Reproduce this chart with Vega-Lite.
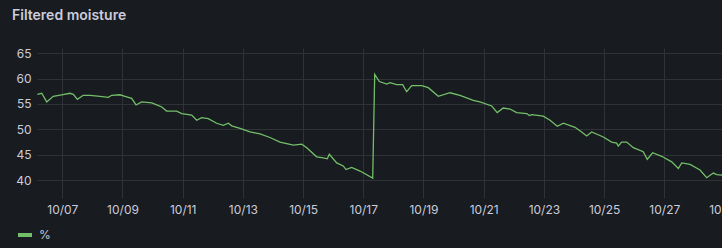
{
  "$schema": "https://vega.github.io/schema/vega-lite/v6.json",
  "width": 685,
  "height": 150,
  "autosize": {"type": "none"},
  "padding": {"left": 37, "top": 48, "right": 0, "bottom": 50},
  "background": "#181b1f",
  "title": {
    "text": "Filtered moisture",
    "anchor": "start",
    "frame": "group",
    "dx": -25,
    "offset": 24,
    "font": "Inter",
    "fontSize": 14,
    "fontWeight": 600,
    "color": "#ccccdc"
  },
  "data": {
    "values": [
      {"time": "2023-10-06T04:06", "value": 56.9},
      {"time": "2023-10-06T07:36", "value": 57.1},
      {"time": "2023-10-06T11:36", "value": 55.4},
      {"time": "2023-10-06T16:48", "value": 56.5},
      {"time": "2023-10-06T23:30", "value": 56.8},
      {"time": "2023-10-07T06:06", "value": 57.1},
      {"time": "2023-10-07T08:48", "value": 56.9},
      {"time": "2023-10-07T12:00", "value": 55.9},
      {"time": "2023-10-07T16:42", "value": 56.7},
      {"time": "2023-10-07T22:06", "value": 56.7},
      {"time": "2023-10-08T06:06", "value": 56.5},
      {"time": "2023-10-08T12:42", "value": 56.3},
      {"time": "2023-10-08T15:24", "value": 56.7},
      {"time": "2023-10-08T22:00", "value": 56.8},
      {"time": "2023-10-09T02:00", "value": 56.5},
      {"time": "2023-10-09T07:18", "value": 56.1},
      {"time": "2023-10-09T10:48", "value": 54.8},
      {"time": "2023-10-09T15:18", "value": 55.4},
      {"time": "2023-10-09T23:18", "value": 55.2},
      {"time": "2023-10-10T03:18", "value": 54.8},
      {"time": "2023-10-10T07:18", "value": 54.4},
      {"time": "2023-10-10T11:12", "value": 53.6},
      {"time": "2023-10-10T19:12", "value": 53.6},
      {"time": "2023-10-10T23:12", "value": 53.1},
      {"time": "2023-10-11T07:12", "value": 52.8},
      {"time": "2023-10-11T11:12", "value": 51.8},
      {"time": "2023-10-11T15:06", "value": 52.3},
      {"time": "2023-10-11T20:24", "value": 52.1},
      {"time": "2023-10-12T03:06", "value": 51.2},
      {"time": "2023-10-12T08:24", "value": 50.8},
      {"time": "2023-10-12T12:24", "value": 51.2},
      {"time": "2023-10-12T15:06", "value": 50.7},
      {"time": "2023-10-12T21:42", "value": 50.2},
      {"time": "2023-10-13T05:42", "value": 49.5},
      {"time": "2023-10-13T13:36", "value": 49.1},
      {"time": "2023-10-13T21:36", "value": 48.4},
      {"time": "2023-10-14T05:36", "value": 47.5},
      {"time": "2023-10-14T16:12", "value": 46.9},
      {"time": "2023-10-14T22:54", "value": 47.1},
      {"time": "2023-10-15T02:54", "value": 46.4},
      {"time": "2023-10-15T10:48", "value": 44.6},
      {"time": "2023-10-15T16:06", "value": 44.4},
      {"time": "2023-10-15T19:18", "value": 44.2},
      {"time": "2023-10-15T20:54", "value": 45.1},
      {"time": "2023-10-16T02:48", "value": 43.4},
      {"time": "2023-10-16T08:00", "value": 42.8},
      {"time": "2023-10-16T10:12", "value": 42.1},
      {"time": "2023-10-16T14:42", "value": 42.5},
      {"time": "2023-10-16T21:24", "value": 41.8},
      {"time": "2023-10-17T07:30", "value": 40.4},
      {"time": "2023-10-17T09:06", "value": 60.8},
      {"time": "2023-10-17T12:48", "value": 59.4},
      {"time": "2023-10-17T18:42", "value": 58.9},
      {"time": "2023-10-17T21:18", "value": 59.2},
      {"time": "2023-10-18T02:36", "value": 58.8},
      {"time": "2023-10-18T07:24", "value": 58.8},
      {"time": "2023-10-18T10:36", "value": 57.4},
      {"time": "2023-10-18T14:36", "value": 58.6},
      {"time": "2023-10-18T22:36", "value": 58.6},
      {"time": "2023-10-19T03:48", "value": 58.2},
      {"time": "2023-10-19T11:48", "value": 56.5},
      {"time": "2023-10-19T21:06", "value": 57.2},
      {"time": "2023-10-20T05:06", "value": 56.7},
      {"time": "2023-10-20T15:42", "value": 55.7},
      {"time": "2023-10-20T21:00", "value": 55.4},
      {"time": "2023-10-21T06:24", "value": 54.6},
      {"time": "2023-10-21T10:48", "value": 53.3},
      {"time": "2023-10-21T15:36", "value": 54.2},
      {"time": "2023-10-21T21:00", "value": 54.0},
      {"time": "2023-10-22T02:18", "value": 53.3},
      {"time": "2023-10-22T10:18", "value": 53.1},
      {"time": "2023-10-22T12:24", "value": 52.7},
      {"time": "2023-10-22T14:18", "value": 52.9},
      {"time": "2023-10-22T23:30", "value": 52.6},
      {"time": "2023-10-23T04:54", "value": 51.8},
      {"time": "2023-10-23T10:42", "value": 50.6},
      {"time": "2023-10-23T15:30", "value": 51.2},
      {"time": "2023-10-24T00:48", "value": 50.4},
      {"time": "2023-10-24T06:06", "value": 49.5},
      {"time": "2023-10-24T10:06", "value": 48.7},
      {"time": "2023-10-24T14:06", "value": 49.5},
      {"time": "2023-10-24T23:24", "value": 48.5},
      {"time": "2023-10-25T06:00", "value": 47.5},
      {"time": "2023-10-25T10:00", "value": 47.3},
      {"time": "2023-10-25T11:18", "value": 46.7},
      {"time": "2023-10-25T14:00", "value": 47.5},
      {"time": "2023-10-25T18:00", "value": 47.5},
      {"time": "2023-10-25T23:18", "value": 46.4},
      {"time": "2023-10-26T07:12", "value": 45.6},
      {"time": "2023-10-26T10:24", "value": 44.1},
      {"time": "2023-10-26T14:42", "value": 45.4},
      {"time": "2023-10-26T21:54", "value": 44.7},
      {"time": "2023-10-27T05:54", "value": 43.6},
      {"time": "2023-10-27T11:12", "value": 42.3},
      {"time": "2023-10-27T13:54", "value": 43.4},
      {"time": "2023-10-27T20:30", "value": 43.1},
      {"time": "2023-10-28T04:30", "value": 42.0},
      {"time": "2023-10-28T09:48", "value": 40.5},
      {"time": "2023-10-28T15:06", "value": 41.4},
      {"time": "2023-10-28T17:48", "value": 41.1},
      {"time": "2023-10-28T22:00", "value": 41.0},
      {"time": "2023-10-29T02:00", "value": 40.9}
    ]
  },
  "mark": {"type": "line", "strokeWidth": 1.3, "interpolate": "linear"},
  "encoding": {
    "x": {
      "field": "time",
      "type": "temporal",
      "scale": {
        "domain": [
          {"year": 2023, "month": 10, "date": 6, "hours": 3, "minutes": 50},
          {"year": 2023, "month": 10, "date": 29}
        ],
        "range": [0, 687.5],
        "nice": false
      },
      "axis": {
        "title": null,
        "values": [
          {"year": 2023, "month": 10, "date": 7},
          {"year": 2023, "month": 10, "date": 9},
          {"year": 2023, "month": 10, "date": 11},
          {"year": 2023, "month": 10, "date": 13},
          {"year": 2023, "month": 10, "date": 15},
          {"year": 2023, "month": 10, "date": 17},
          {"year": 2023, "month": 10, "date": 19},
          {"year": 2023, "month": 10, "date": 21},
          {"year": 2023, "month": 10, "date": 23},
          {"year": 2023, "month": 10, "date": 25},
          {"year": 2023, "month": 10, "date": 27},
          {"year": 2023, "month": 10, "date": 29}
        ],
        "format": "%m/%d",
        "labelFlush": false,
        "labelOverlap": false,
        "labelPadding": 6
      }
    },
    "y": {
      "field": "value",
      "type": "quantitative",
      "scale": {"domain": [36.5, 66], "nice": false, "zero": false},
      "axis": {
        "title": null,
        "values": [40, 45, 50, 55, 60, 65],
        "labelPadding": 6
      }
    },
    "color": {
      "datum": "%",
      "scale": {"range": ["#73bf69"]},
      "legend": {
        "title": null,
        "orient": "none",
        "legendX": -21,
        "legendY": 178,
        "symbolType": "stroke",
        "symbolStrokeWidth": 4,
        "symbolSize": 196,
        "labelFont": "Inter",
        "labelFontSize": 12,
        "labelColor": "#ccccdc",
        "labelOffset": 5
      }
    }
  },
  "config": {
    "view": {"stroke": null},
    "axis": {
      "grid": true,
      "gridColor": "#2f3237",
      "gridWidth": 1,
      "domain": false,
      "ticks": false,
      "labelFont": "Inter",
      "labelFontSize": 12,
      "labelColor": "#ccccdc"
    }
  }
}
